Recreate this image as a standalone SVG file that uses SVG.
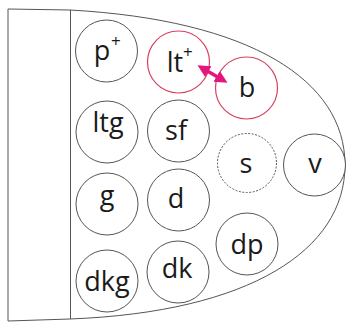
<svg xmlns="http://www.w3.org/2000/svg" width="347" height="323" viewBox="0 0 347 323">
<defs>
<style>
.o{fill:none;stroke:#555;stroke-width:1}
.c{fill:#fff;stroke:#555;stroke-width:1}
.r{fill:#fff;stroke:#d8405e;stroke-width:1.2}
.s{fill:#fff;stroke:#555;stroke-width:1;stroke-dasharray:2 1.5}
text{font-family:"Open Sans","Noto Sans","DejaVu Sans",sans-serif;font-size:27px;fill:#1a1a1a;text-anchor:middle}
.sup{font-size:17px;text-anchor:start}
</style>
<marker id="ah" viewBox="0 0 10 10" refX="4" refY="5" markerWidth="3.6" markerHeight="4" orient="auto-start-reverse">
<path d="M0,0 L10,5 L0,10 z" fill="#e4157d"/>
</marker>
</defs>
<rect width="347" height="323" fill="#fff"/>
<g id="outline">
<path class="o" d="M8,9 L70,10 C250,20 345,80 345,165 C345,250 250,312 70,319 L8,321 Z"/>
<line class="o" x1="70.5" y1="10" x2="70.5" y2="319"/>
</g>
<g id="p"><circle class="c" cx="106.5" cy="51" r="31"/><text x="102" y="60">p</text><text class="sup" x="111" y="47">+</text></g>
<g id="lt"><circle class="r" cx="178.5" cy="62" r="31"/><text x="175" y="72">lt</text><text class="sup" x="183" y="58">+</text></g>
<g id="b"><circle class="r" cx="246.5" cy="88" r="31"/><text x="247" y="97">b</text></g>
<g id="ltg"><circle class="c" cx="107" cy="132" r="31"/><text x="108" y="132">ltg</text></g>
<g id="sf"><circle class="c" cx="178.5" cy="131" r="31"/><text x="176" y="140">sf</text></g>
<g id="s"><circle class="s" cx="247" cy="163" r="29.5"/><text x="246" y="173">s</text></g>
<g id="v"><circle class="c" cx="314.5" cy="165" r="31"/><text x="315" y="173">v</text></g>
<g id="g"><circle class="c" cx="107" cy="204" r="31"/><text x="107" y="205">g</text></g>
<g id="d"><circle class="c" cx="178.5" cy="200" r="31"/><text x="176" y="208">d</text></g>
<g id="dkg"><circle class="c" cx="107" cy="281" r="31"/><text x="107" y="291">dkg</text></g>
<g id="dk"><circle class="c" cx="178" cy="272" r="31"/><text x="177" y="278">dk</text></g>
<g id="dp"><circle class="c" cx="247" cy="244" r="31"/><text x="247" y="254">dp</text></g>
<g id="connectors">
<line x1="204" y1="69" x2="221" y2="79" stroke="#e4157d" stroke-width="3.5" marker-start="url(#ah)" marker-end="url(#ah)"/>
</g>
</svg>
